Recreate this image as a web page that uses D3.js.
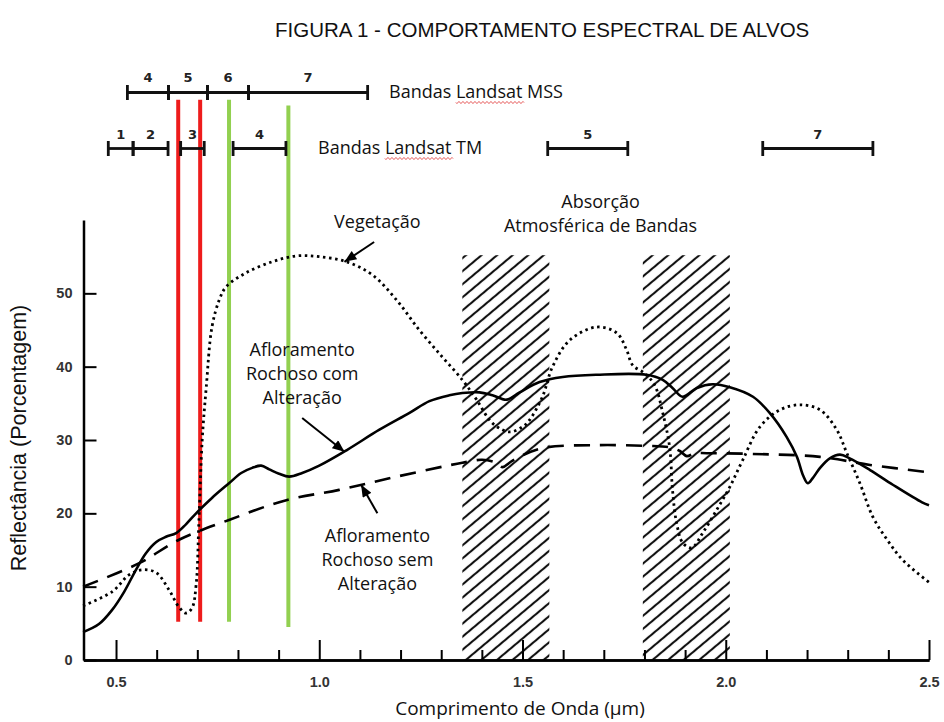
<!DOCTYPE html>
<html>
<head>
<meta charset="utf-8">
<script src="https://cdn.jsdelivr.net/npm/d3@7"></script>
<style>
  body { margin: 0; background: #fff; }
  svg { display: block; }
  .texto { font-family: "Open Sans", sans-serif; font-size: 18px; fill: #111; }
  .eixo path, .eixo line { stroke: #000; stroke-width: 2.5; }
  .eixo text { font-family: "Liberation Sans", Arial, sans-serif; font-weight: bold; font-size: 14.5px; fill: #333; }
</style>
</head>
<body>
<div class="wrapper"></div>
<script>
width = 944;
height = 722;

/* Dados: [comprimento de onda (µm), reflectância (%)] */

vegetacao = [
  [0.419, 7.4], [0.490, 9.3], [0.532, 11.6], [0.564, 12.3], [0.599, 11.9], [0.631, 9.5],
  [0.655, 7.2], [0.672, 6.4], [0.687, 7.1], [0.697, 10.2], [0.704, 19.1], [0.712, 30.0],
  [0.722, 37.2], [0.736, 45.4], [0.754, 49.1], [0.771, 50.9], [0.820, 52.8], [0.884, 54.3],
  [0.943, 55.1], [1.000, 55.0], [1.067, 54.3], [1.131, 52.5], [1.190, 49.1], [1.246, 45.0],
  [1.303, 41.3], [1.352, 38.2], [1.387, 35.5], [1.426, 32.3], [1.468, 31.1], [1.500, 31.8],
  [1.517, 32.7], [1.549, 35.9], [1.574, 40.0], [1.616, 43.6], [1.682, 45.4], [1.732, 44.6],
  [1.756, 42.3], [1.771, 40.2], [1.800, 39.1], [1.825, 37.5], [1.845, 33.7], [1.862, 29.0],
  [1.869, 23.2], [1.879, 18.7], [1.894, 16.0], [1.916, 15.3], [1.943, 17.3], [1.978, 20.5],
  [2.010, 23.6], [2.042, 27.3], [2.084, 31.8], [2.133, 34.1], [2.182, 34.8], [2.232, 34.1],
  [2.273, 31.4], [2.298, 28.2], [2.330, 24.1], [2.362, 19.5], [2.397, 16.4], [2.436, 13.6],
  [2.500, 10.6]
];

comAlteracao = [
  [0.419, 3.8], [0.458, 4.9], [0.490, 6.8], [0.520, 9.3], [0.549, 12.3], [0.574, 14.6],
  [0.599, 16.1], [0.623, 16.8], [0.648, 17.3], [0.672, 18.5], [0.697, 20.0], [0.736, 22.1],
  [0.778, 24.1], [0.808, 25.5], [0.835, 26.2], [0.857, 26.5], [0.877, 26.0], [0.901, 25.4],
  [0.926, 25.0], [0.958, 25.5], [1.000, 26.5], [1.067, 28.6], [1.148, 31.4], [1.222, 33.7],
  [1.271, 35.3], [1.320, 36.1], [1.352, 36.4], [1.394, 36.5], [1.426, 36.1], [1.461, 35.5],
  [1.493, 36.5], [1.542, 37.9], [1.599, 38.6], [1.682, 38.9], [1.805, 38.9], [1.845, 38.2],
  [1.869, 37.1], [1.894, 35.9], [1.929, 37.1], [1.968, 37.6], [2.010, 37.2], [2.067, 35.9],
  [2.108, 33.7], [2.150, 30.4], [2.175, 27.7], [2.190, 25.2], [2.202, 24.1], [2.214, 24.8],
  [2.232, 26.2], [2.256, 27.5], [2.281, 28.0], [2.305, 27.5], [2.355, 25.9], [2.411, 23.9],
  [2.483, 21.5], [2.500, 21.1]
];

semAlteracao = [
  [0.419, 10.0], [0.557, 13.2], [0.655, 16.4], [0.778, 19.1], [0.919, 21.8], [1.049, 23.2],
  [1.190, 25.0], [1.352, 26.9], [1.401, 27.3], [1.436, 26.9], [1.451, 26.3], [1.468, 26.9],
  [1.485, 27.5], [1.549, 28.9], [1.682, 29.3], [1.805, 29.2], [1.862, 29.0], [1.887, 28.5],
  [1.904, 27.8], [1.924, 28.2], [1.953, 28.2], [2.067, 28.1], [2.232, 27.7], [2.355, 26.6],
  [2.500, 25.6]
];

// bandas Landsat (µm)
bandasMSS = ["4", "5", "6", "7"];
limitesMSS = [0.528, 0.629, 0.725, 0.826, 1.119];
bandasTM = ["1", "2", "3", "4", "5", "7"];
intervalosTM = [[0.481, 0.542], [0.542, 0.628], [0.659, 0.717], [0.788, 0.918], [1.562, 1.759], [2.091, 2.362]];

// faixas de absorção atmosférica (µm) e altura das faixas (%)
absorcao = [[1.352, 1.566], [1.796, 2.010]];
absorcaoTopo = 55.2;

// linhas coloridas (µm) e suas extremidades (%)
linhasVermelhas = [0.653, 0.707];
linhasVerdes = [0.778, 0.924];
linhasTopo = [76.4, 76.4, 76.4, 75.6];
linhasBase = [5.2, 5.2, 5.2, 4.5];

// eixos
ticksMaiores = [0.5, 1.0, 1.5, 2.0, 2.5];
ticksMenores = [0.6, 0.7, 0.8, 0.9, 1.1, 1.2, 1.3, 1.4, 1.6, 1.7, 1.8, 1.9, 2.1, 2.2, 2.3, 2.4];
ticksY = [0, 10, 20, 30, 40, 50];

// rótulos e setas (posições em µm / %)
rotulos = [
  { linhas: ["Vegetação"], x: 1.143, y: 59.8 },
  { linhas: ["Absorção", "Atmosférica de Bandas"], x: 1.692, y: 62.5 },
  { linhas: ["Afloramento", "Rochoso com", "Alteração"], x: 0.958, y: 42.3 },
  { linhas: ["Afloramento", "Rochoso sem", "Alteração"], x: 1.143, y: 16.9 }
];
setas = [
  { de: [1.135, 57.0], para: [1.062, 54.3] },
  { de: [0.958, 33.0], para: [1.062, 28.4] },
  { de: [1.143, 20.0], para: [1.103, 23.9] }
];

x = d3.scaleLinear().domain([0.42, 2.5]).range([83.5, 929]);
y = d3.scaleLinear().domain([0, 60]).range([660, 220]);

/* Inicializa canvas */
svg = d3.select(".wrapper")
  .append("svg")
  .attr("width", width)
  .attr("height", height)
  .attr("viewBox", "0 0 " + width + " " + height);

defs = svg.append("defs");

defs.append("pattern")
  .attr("id", "hachura")
  .attr("patternUnits", "userSpaceOnUse")
  .attr("width", 12)
  .attr("height", 10)
  .attr("patternTransform", "rotate(-40)")
  .append("line")
  .attr("x1", 0).attr("x2", 12)
  .attr("y1", 5).attr("y2", 5)
  .attr("stroke", "#111")
  .attr("stroke-width", 2.1);

defs.append("marker")
  .attr("id", "ponta")
  .attr("viewBox", "0 0 12 10")
  .attr("refX", 12).attr("refY", 5)
  .attr("markerUnits", "userSpaceOnUse")
  .attr("markerWidth", 13).attr("markerHeight", 10)
  .attr("orient", "auto")
  .append("path")
  .attr("d", "M0,0 L12,5 L0,10 z")
  .attr("fill", "#000");

// título
svg.append("text")
  .attr("x", 275).attr("y", 30)
  .attr("dy", "0.35em")
  .style("font-family", "'Liberation Sans', Arial, sans-serif")
  .style("font-size", "20.5px")
  .style("fill", "#111")
  .text("FIGURA 1 - COMPORTAMENTO ESPECTRAL DE ALVOS");

// faixas de absorção hachuradas
svg.append("g").selectAll("rect")
  .data(absorcao)
  .enter().append("rect")
  .attr("x", function (d) { return x(d[0]) })
  .attr("width", function (d) { return x(d[1]) - x(d[0]) })
  .attr("y", y(absorcaoTopo))
  .attr("height", y(0) - y(absorcaoTopo))
  .attr("fill", "url(#hachura)");

// linhas vermelhas e verdes
linhasCor = linhasVermelhas.map(function (v) { return { wl: v, cor: "#ee1c1c" } })
  .concat(linhasVerdes.map(function (v) { return { wl: v, cor: "#92d050" } }));

svg.append("g").selectAll("line")
  .data(linhasCor)
  .enter().append("line")
  .attr("x1", function (d) { return x(d.wl) })
  .attr("x2", function (d) { return x(d.wl) })
  .attr("y1", function (d, i) { return y(linhasTopo[i]) })
  .attr("y2", function (d, i) { return y(linhasBase[i]) })
  .attr("stroke", function (d) { return d.cor })
  .attr("stroke-width", 4);

// curvas
linha = d3.line()
  .x(function (d) { return x(d[0]) })
  .y(function (d) { return y(d[1]) })
  .curve(d3.curveCatmullRom.alpha(0.5));

svg.append("path").datum(semAlteracao)
  .attr("d", linha)
  .attr("fill", "none").attr("stroke", "#000")
  .attr("stroke-width", 2.6).attr("stroke-dasharray", "16,10");

svg.append("path").datum(vegetacao)
  .attr("d", linha)
  .attr("fill", "none").attr("stroke", "#000")
  .attr("stroke-width", 2.8).attr("stroke-dasharray", "2.5,3.6");

svg.append("path").datum(comAlteracao)
  .attr("d", linha)
  .attr("fill", "none").attr("stroke", "#000")
  .attr("stroke-width", 2.6);

// eixos
svg.append("g")
  .attr("class", "eixo")
  .attr("transform", "translate(0," + y(0) + ")")
  .call(d3.axisBottom(x).tickValues(ticksMenores).tickSize(-10).tickSizeOuter(0).tickFormat(""));

svg.append("g")
  .attr("class", "eixo")
  .attr("transform", "translate(0," + y(0) + ")")
  .call(d3.axisBottom(x).tickValues(ticksMaiores).tickSize(-20).tickSizeOuter(0)
    .tickPadding(17).tickFormat(d3.format(".1f")));

svg.append("g")
  .attr("class", "eixo")
  .attr("transform", "translate(" + x(0.42) + ",0)")
  .call(d3.axisLeft(y).tickValues(ticksY).tickSize(-13).tickSizeOuter(0).tickPadding(11));

svg.selectAll(".eixo line").style("stroke-width", 2);

svg.append("text")
  .attr("class", "texto")
  .attr("x", 520).attr("y", 708)
  .attr("text-anchor", "middle")
  .attr("dy", "0.35em")
  .style("font-size", "19px")
  .text("Comprimento de Onda (µm)");

svg.append("text")
  .attr("transform", "translate(18,438) rotate(-90)")
  .attr("text-anchor", "middle")
  .attr("dy", "0.35em")
  .style("font-family", "'Liberation Sans', Arial, sans-serif")
  .style("font-size", "21.5px")
  .style("fill", "#111")
  .text("Reflectância (Porcentagem)");

/* Bandas Landsat */

function drawBarra(g, a, b, yy) {
  g.append("line").attr("x1", x(a)).attr("x2", x(b)).attr("y1", yy).attr("y2", yy)
    .attr("stroke", "#111").attr("stroke-width", 2.8);
  [a, b].forEach(function (v) {
    g.append("line").attr("x1", x(v)).attr("x2", x(v)).attr("y1", yy - 7.5).attr("y2", yy + 7.5)
      .attr("stroke", "#111").attr("stroke-width", 2.8);
  });
}

function drawRotuloBanda(g, t, a, b, yy) {
  g.append("text")
    .attr("x", (x(a) + x(b)) / 2).attr("y", yy)
    .attr("text-anchor", "middle").attr("dy", "0.35em")
    .style("font-family", "'DejaVu Sans', sans-serif")
    .style("font-weight", "bold").style("font-size", "13px").style("fill", "#222")
    .text(t);
}

yMSS = 92.5;
yTM = 148.5;
bandas = svg.append("g");

bandasMSS.forEach(function (t, i) {
  drawBarra(bandas, limitesMSS[i], limitesMSS[i + 1], yMSS);
  drawRotuloBanda(bandas, t, limitesMSS[i], limitesMSS[i + 1], yMSS - 15);
});
bandasTM.forEach(function (t, i) {
  drawBarra(bandas, intervalosTM[i][0], intervalosTM[i][1], yTM);
  drawRotuloBanda(bandas, t, intervalosTM[i][0], intervalosTM[i][1], yTM - 14);
});

function drawLegendaBanda(texto, xx, yy) {
  var t = bandas.append("text")
    .attr("class", "texto")
    .attr("x", xx).attr("y", yy).attr("dy", "0.35em")
    .text(texto);
  // sublinhado ondulado do corretor sob "Landsat"
  var ini = xx + t.node().getSubStringLength(0, 7);
  var fim = xx + t.node().getSubStringLength(0, 14);
  var base = yy + 10.5;
  var d = "M" + ini + "," + base;
  for (var p = ini; p < fim; p += 2) {
    d += " L" + (p + 1) + "," + (base + ((p - ini) / 2 % 2 ? -1 : 1)) + " L" + (p + 2) + "," + base;
  }
  bandas.append("path").attr("d", d).attr("fill", "none").attr("stroke", "#e03030").attr("stroke-width", 0.9);
}

drawLegendaBanda("Bandas Landsat MSS", 389, 92);
drawLegendaBanda("Bandas Landsat TM", 318, 148);

/* Rótulos e setas */

rotulos.forEach(function (r) {
  var t = svg.append("text")
    .attr("class", "texto")
    .attr("text-anchor", "middle");
  r.linhas.forEach(function (l, i) {
    t.append("tspan")
      .attr("x", x(r.x))
      .attr("y", y(r.y) + i * 24)
      .attr("dy", "0.35em")
      .text(l);
  });
});

svg.append("g").selectAll("line")
  .data(setas)
  .enter().append("line")
  .attr("x1", function (d) { return x(d.de[0]) })
  .attr("y1", function (d) { return y(d.de[1]) })
  .attr("x2", function (d) { return x(d.para[0]) })
  .attr("y2", function (d) { return y(d.para[1]) })
  .attr("stroke", "#000")
  .attr("stroke-width", 2)
  .attr("marker-end", "url(#ponta)");
</script>
</body>
</html>
